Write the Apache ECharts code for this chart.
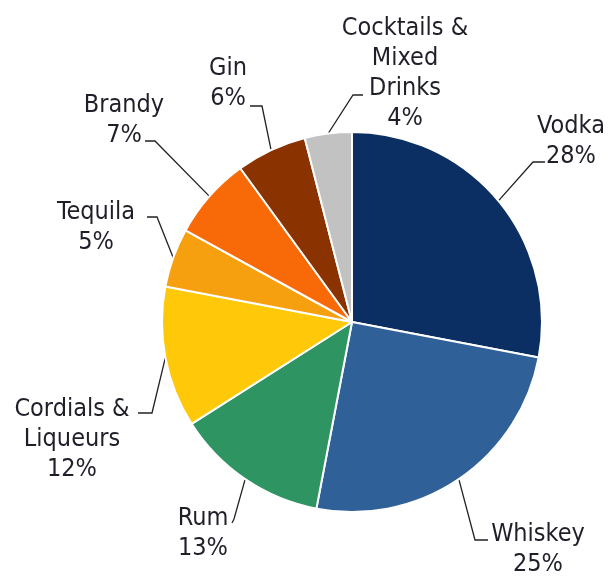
<!DOCTYPE html>
<html>
<head>
<meta charset="utf-8">
<script src="https://cdn.jsdelivr.net/npm/echarts@6/dist/echarts.min.js"></script>
<style>
  html, body { margin: 0; padding: 0; background: #fff; }
  #chart { width: 613px; height: 576px; }
</style>
</head>
<body>
<div id="chart"></div>
<script>
// 数据（顺时针，从 12 点方向开始）
var categories = ['Vodka', 'Whiskey', 'Rum', 'Cordials &\nLiqueurs', 'Tequila', 'Brandy', 'Gin', 'Cocktails &\nMixed\nDrinks'];
var shares = [28, 25, 13, 12, 5, 7, 6, 4];
var colors = ['#0b2f62', '#2f6098', '#2e9462', '#ffc90a', '#f7a00f', '#f86a08', '#8a3200', '#c2c2c2'];

// 标签摆放：文字中心 + 引导线拐点/终点（只管标签，不是数据）
var labelCenter = [[571, 141], [538, 549], [203, 533], [72, 439], [96, 227], [124, 120], [228, 83], [405, 73]];
var lineElbow = [[533, 162], [475, 540], [234, 519], [152, 413], [157, 217], [155, 141], [262, 106], [353, 95]];
var lineEnd = [[545, 162], [488, 540], [232, 523], [138, 413], [147, 217], [145, 141], [250, 106], [363, 95]];

var chart = echarts.init(document.getElementById('chart'));

var pieData = [];
for (var i = 0; i < categories.length; i++) {
  pieData.push({ name: categories[i], value: shares[i], itemStyle: { color: colors[i] } });
}

chart.setOption({
  animation: false,
  series: [{
    type: 'pie',
    center: [352, 322],
    radius: 190,
    startAngle: 90,
    clockwise: true,
    data: pieData,
    itemStyle: { borderColor: '#fff', borderWidth: 2 },
    label: {
      show: true,
      formatter: function (p) { return p.name + '\n' + Math.round(p.percent) + '%'; },
      fontFamily: '"DejaVu Sans Condensed", "DejaVu Sans"',
      fontSize: 25,
      lineHeight: 30,
      color: '#1f1f2a',
      overflow: 'none'
    },
    labelLine: {
      show: true,
      length: 30,
      length2: 10,
      lineStyle: { color: '#222', width: 1.3 }
    },
    // 标签位置 按原图摆放，引导线起点用库算出来的扇区边缘点
    labelLayout: function (params) {
      var k = params.dataIndex;
      var start = params.labelLinePoints ? params.labelLinePoints[0] : lineElbow[k];
      return {
        x: labelCenter[k][0],
        y: labelCenter[k][1],
        align: 'center',
        verticalAlign: 'middle',
        labelLinePoints: [start, lineElbow[k], lineEnd[k]]
      };
    }
  }]
});
</script>
</body>
</html>
